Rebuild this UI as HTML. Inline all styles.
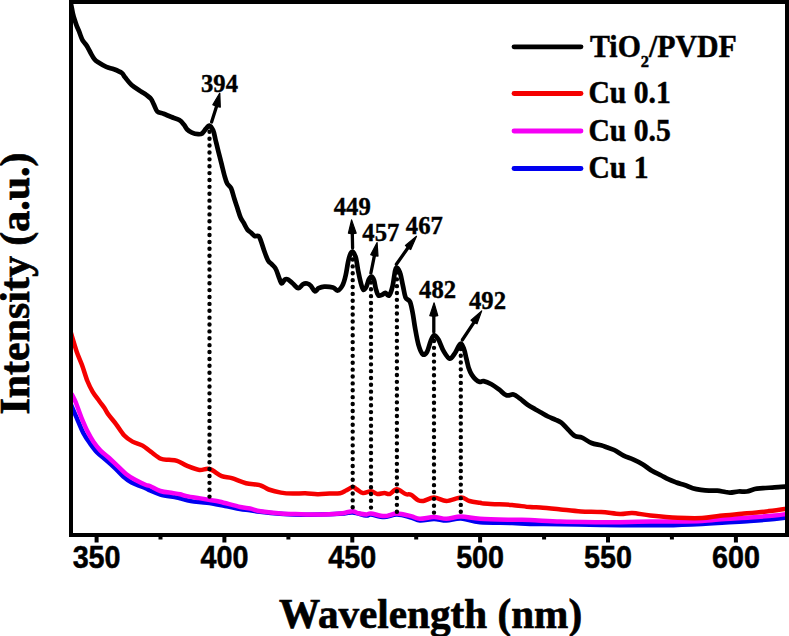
<!DOCTYPE html>
<html><head><meta charset="utf-8"><style>
html,body{margin:0;padding:0;background:#fff;}
svg{display:block;}
.tk{font-family:"Liberation Sans",sans-serif;font-weight:bold;font-size:31px;text-anchor:middle;stroke:#000;stroke-width:0.5px;}
.ti{font-family:"Liberation Serif",serif;font-weight:bold;font-size:43px;stroke:#000;stroke-width:0.7px;}
.lg{font-family:"Liberation Serif",serif;font-weight:bold;font-size:31px;stroke:#000;stroke-width:0.5px;}
.pk{font-family:"Liberation Serif",serif;font-weight:bold;font-size:26px;stroke:#000;stroke-width:0.4px;}
</style></head><body>
<svg width="789" height="636" viewBox="0 0 789 636">
<rect width="789" height="636" fill="#fff"/>
<defs><clipPath id="pc"><rect x="71" y="2" width="716" height="533"/></clipPath></defs>
<g fill="none" stroke-linejoin="round" stroke-linecap="round" clip-path="url(#pc)">
<path d="M71.2,405.2C72.1,407.2 74.4,412.6 76.4,417.2C78.4,421.8 81.0,428.6 83.3,433.0C85.6,437.4 87.9,440.5 90.2,443.7C92.5,446.9 94.5,449.7 97.1,452.4C99.7,455.1 102.8,457.3 105.7,459.8C108.6,462.3 111.5,464.8 114.4,467.5C117.3,470.2 120.1,473.7 123.0,476.2C125.9,478.7 127.8,480.6 131.6,482.6C135.4,484.6 142.9,487.1 146.0,488.4C149.1,489.7 147.6,489.5 150.0,490.5C152.4,491.5 156.2,493.4 160.3,494.5C164.4,495.6 171.2,496.5 174.5,497.1C177.8,497.7 177.3,497.5 180.0,498.2C182.7,498.9 186.3,500.3 190.8,501.1C195.3,501.9 201.3,502.0 207.0,502.8C212.7,503.6 219.5,505.0 225.0,506.0C230.5,507.0 235.8,508.3 240.0,509.0C244.2,509.7 246.7,509.7 250.0,510.2C253.3,510.7 255.0,511.2 260.0,511.8C265.0,512.4 273.2,513.3 280.0,513.8C286.8,514.3 291.0,514.8 301.0,514.8C311.0,514.8 331.4,514.2 340.0,513.8C348.6,513.4 348.5,512.2 352.8,512.5C357.1,512.8 363.0,515.2 366.0,515.5C369.0,515.8 368.0,514.2 371.0,514.5C374.0,514.8 379.7,517.0 384.0,517.0C388.3,517.0 392.5,514.4 397.0,514.5C401.5,514.6 407.2,516.5 411.0,517.5C414.8,518.5 416.2,520.2 420.0,520.5C423.8,520.8 429.6,519.0 434.0,519.0C438.4,519.0 442.0,520.7 446.5,520.6C451.0,520.5 455.4,518.2 461.0,518.5C466.6,518.8 471.5,521.5 480.0,522.3C488.5,523.0 503.7,522.7 512.0,523.0C520.3,523.3 521.9,523.8 530.0,524.0C538.1,524.2 548.8,524.0 560.6,524.2C572.5,524.4 591.2,524.8 601.1,525.0C611.0,525.2 609.2,525.2 620.0,525.2C630.8,525.2 651.9,525.5 665.6,525.3C679.3,525.1 692.0,524.5 702.0,524.0C712.0,523.5 717.4,523.0 725.4,522.5C733.4,522.0 741.8,521.6 750.0,521.0C758.2,520.4 768.4,519.6 774.5,519.0C780.6,518.4 784.7,517.8 786.7,517.5" stroke="#0000f0" stroke-width="4.5"/>
<path d="M72.0,394.5C72.4,395.2 73.5,397.4 74.2,399.0C74.9,400.6 75.2,400.9 76.4,404.0C77.6,407.1 79.6,413.2 81.5,417.8C83.4,422.4 85.6,427.6 87.6,431.6C89.6,435.6 91.4,438.8 93.6,442.0C95.8,445.2 97.9,447.9 100.5,450.6C103.1,453.3 106.3,455.4 109.2,458.0C112.1,460.6 114.9,463.5 117.8,466.2C120.7,468.9 123.5,472.0 126.4,474.3C129.3,476.6 131.8,478.0 135.1,479.8C138.4,481.6 143.5,484.0 146.0,485.0C148.5,486.0 147.6,485.0 150.0,486.0C152.4,487.0 156.6,489.8 160.3,491.0C164.1,492.2 169.2,492.5 172.5,493.0C175.8,493.5 177.6,493.7 180.0,494.2C182.4,494.7 183.5,495.5 186.7,496.1C189.8,496.8 195.0,497.5 198.9,498.1C202.8,498.8 206.5,499.4 210.0,500.0C213.5,500.6 214.9,500.5 220.0,501.7C225.1,502.9 235.3,505.9 240.3,507.0C245.3,508.1 246.6,507.8 250.0,508.5C253.4,509.2 255.5,510.4 260.6,511.2C265.8,512.0 274.1,513.0 280.9,513.5C287.6,514.0 294.4,514.0 301.1,514.2C307.9,514.4 314.9,514.6 321.4,514.5C327.9,514.4 335.9,513.8 340.0,513.5C344.1,513.2 343.9,512.9 346.0,512.5C348.1,512.1 350.8,511.1 352.8,511.2C354.8,511.3 355.7,512.7 358.0,513.2C360.3,513.7 364.4,514.4 366.6,514.4C368.8,514.4 368.0,513.2 371.0,513.5C374.0,513.8 380.1,516.1 384.4,516.1C388.7,516.1 392.4,513.5 396.8,513.5C401.2,513.5 407.2,515.2 411.0,516.1C414.8,517.0 416.0,518.6 419.8,518.8C423.6,518.9 429.6,517.0 434.0,517.0C438.4,517.0 442.0,518.9 446.5,518.8C451.0,518.7 455.4,516.5 461.0,516.5C466.6,516.5 471.5,518.2 480.0,518.8C488.5,519.3 503.7,519.6 512.0,519.8C520.3,520.0 521.9,519.7 530.0,520.0C538.1,520.3 548.8,521.2 560.6,521.6C572.5,522.0 591.2,522.1 601.1,522.2C611.0,522.3 611.8,522.3 620.0,522.2C628.2,522.1 640.8,521.7 650.4,521.6C660.0,521.5 669.2,521.7 677.8,521.6C686.4,521.5 694.1,521.4 702.0,521.0C709.9,520.6 717.4,519.6 725.4,519.0C733.4,518.4 741.8,518.1 750.0,517.5C758.2,516.9 768.4,516.1 774.5,515.5C780.6,514.9 784.7,514.2 786.7,514.0" stroke="#f500f5" stroke-width="4.5"/>
<path d="M70.8,332.5C71.8,335.7 74.8,346.3 76.7,351.7C78.6,357.1 80.2,360.1 82.0,365.0C83.8,369.9 85.6,376.5 87.4,381.0C89.2,385.5 90.7,388.4 92.7,391.8C94.7,395.2 97.4,398.4 99.4,401.2C101.4,404.0 103.3,406.4 104.8,408.6C106.2,410.8 106.2,411.6 108.1,414.2C110.0,416.8 113.5,420.8 116.2,424.3C118.9,427.9 121.6,432.6 124.3,435.5C127.0,438.4 129.4,439.9 132.5,441.6C135.6,443.3 139.6,443.9 142.6,445.6C145.6,447.3 147.6,449.5 150.7,451.7C153.8,453.9 157.8,457.4 160.9,458.8C164.0,460.2 166.3,459.5 169.0,459.8C171.7,460.1 174.1,459.9 177.1,460.9C180.1,461.9 183.5,464.4 187.2,465.9C190.9,467.4 195.7,469.5 199.4,470.0C203.1,470.5 205.8,468.0 209.5,469.0C213.2,470.0 218.0,474.6 221.7,476.1C225.4,477.6 227.8,476.9 231.8,478.1C235.9,479.3 241.3,482.0 246.0,483.2C250.7,484.4 256.2,484.1 260.0,485.2C263.8,486.2 265.2,488.3 268.7,489.5C272.2,490.7 276.8,491.9 280.9,492.6C284.9,493.3 288.9,493.5 293.0,493.6C297.1,493.7 301.1,493.1 305.2,493.2C309.3,493.3 313.3,494.1 317.4,494.2C321.4,494.3 325.7,493.8 329.5,493.6C333.3,493.4 337.2,493.7 340.0,493.2C342.8,492.7 343.9,491.5 346.0,490.5C348.1,489.5 351.0,487.2 352.8,487.0C354.6,486.8 355.3,488.5 357.0,489.5C358.7,490.5 360.8,492.8 363.1,493.1C365.4,493.4 368.6,491.2 371.0,491.3C373.4,491.4 375.1,493.7 377.3,494.0C379.5,494.3 382.3,493.1 384.4,493.1C386.5,493.1 387.6,494.6 389.7,494.0C391.8,493.4 394.1,489.2 396.8,489.2C399.5,489.2 403.2,493.1 405.6,494.0C408.0,494.9 408.9,493.8 411.0,494.8C413.1,495.8 416.0,499.2 418.1,500.2C420.2,501.2 420.8,501.4 423.4,501.0C426.0,500.6 430.1,497.5 434.0,497.5C437.9,497.5 442.0,501.0 446.5,501.0C451.0,501.0 457.2,497.5 461.0,497.5C464.8,497.5 466.3,500.1 469.5,501.0C472.7,501.9 477.6,502.4 480.0,502.8C482.4,503.2 481.0,503.4 483.6,503.6C486.2,503.8 491.1,504.0 495.8,504.2C500.5,504.4 506.3,504.5 512.0,505.0C517.7,505.5 525.3,506.7 530.0,507.1C534.7,507.5 535.2,507.0 540.3,507.4C545.4,507.8 553.8,508.7 560.6,509.4C567.4,510.1 574.1,511.0 580.9,511.4C587.6,511.8 594.6,511.6 601.1,512.0C607.6,512.4 614.8,513.8 620.0,514.0C625.2,514.2 627.1,512.8 632.2,513.0C637.3,513.2 642.8,514.7 650.4,515.5C658.0,516.3 669.2,517.4 677.8,517.8C686.4,518.2 695.1,518.4 702.1,518.1C709.1,517.8 713.4,516.5 720.0,515.8C726.6,515.1 734.1,514.5 741.8,513.8C749.5,513.1 758.8,512.3 766.3,511.5C773.8,510.7 783.3,509.2 786.7,508.8" stroke="#f50000" stroke-width="4.5"/>
<path d="M71.2,5.0C71.5,6.4 72.2,10.6 72.8,13.2C73.4,15.8 74.1,18.1 74.8,20.3C75.5,22.5 76.2,24.6 76.9,26.4C77.6,28.2 78.3,29.5 79.0,31.2C79.7,32.9 80.4,35.1 81.0,36.6C81.6,38.1 81.8,39.0 82.7,40.5C83.6,42.0 85.2,43.4 86.5,45.4C87.8,47.4 89.1,50.2 90.4,52.5C91.7,54.8 93.1,57.5 94.5,59.2C95.9,60.9 96.6,61.2 98.6,62.5C100.6,63.8 103.7,65.8 106.3,66.9C108.9,68.0 111.4,68.3 114.0,69.3C116.6,70.3 119.9,71.6 121.7,72.9C123.5,74.2 123.3,75.3 125.0,77.3C126.7,79.3 129.0,82.7 131.6,85.0C134.2,87.3 137.9,89.4 140.4,91.1C142.9,92.8 144.5,93.6 146.3,94.9C148.1,96.2 149.7,97.2 151.0,98.9C152.3,100.6 153.1,103.1 154.2,105.2C155.2,107.3 155.7,110.0 157.3,111.4C158.9,112.8 161.2,112.9 163.6,113.8C165.9,114.7 168.8,116.0 171.4,117.0C174.0,118.0 177.2,118.8 179.3,120.1C181.4,121.4 182.7,123.2 184.0,124.8C185.3,126.4 185.9,128.2 187.2,129.5C188.5,130.8 190.1,131.9 191.9,132.7C193.7,133.5 196.5,134.1 198.2,134.2C199.9,134.3 200.8,134.4 202.1,133.5C203.4,132.6 204.8,130.0 206.0,128.7C207.2,127.4 208.0,125.3 209.2,125.6C210.4,125.9 212.0,128.0 213.1,130.3C214.2,132.7 214.6,136.0 215.5,139.7C216.4,143.4 217.5,148.1 218.6,152.3C219.7,156.5 220.8,160.9 221.8,164.9C222.8,168.9 223.8,173.2 224.7,176.3C225.6,179.4 226.0,181.4 227.1,183.4C228.2,185.4 229.8,185.6 231.0,188.1C232.2,190.6 233.1,195.0 234.2,198.3C235.2,201.6 236.3,204.5 237.3,207.7C238.3,210.8 239.4,214.7 240.4,217.2C241.4,219.7 242.4,220.6 243.6,222.7C244.8,224.8 246.2,228.0 247.5,229.7C248.8,231.4 250.2,231.8 251.4,232.9C252.6,234.0 253.4,235.5 254.6,236.0C255.8,236.5 257.4,235.2 258.5,236.0C259.6,236.8 260.0,238.4 260.9,240.8C261.8,243.2 262.8,246.9 264.0,250.2C265.2,253.5 266.7,258.0 268.0,260.4C269.3,262.8 270.6,262.9 271.9,264.3C273.2,265.7 274.6,266.6 275.8,269.0C277.1,271.4 278.4,276.3 279.4,278.7C280.4,281.1 280.9,283.4 281.8,283.5C282.7,283.6 283.8,280.2 284.9,279.5C285.9,278.8 286.8,278.8 288.1,279.5C289.4,280.2 291.1,282.1 292.8,283.5C294.5,284.9 296.6,288.1 298.3,288.2C300.0,288.3 301.6,285.0 303.0,284.2C304.4,283.4 305.7,283.2 307.0,283.5C308.3,283.8 309.6,284.5 310.9,285.8C312.2,287.1 313.5,290.9 314.8,291.3C316.1,291.7 317.1,289.0 318.7,288.2C320.3,287.4 321.8,286.7 324.2,286.6C326.6,286.5 330.7,286.8 332.9,287.4C335.1,288.0 336.0,290.9 337.6,290.5C339.2,290.1 341.1,287.8 342.5,285.3C343.9,282.8 344.8,279.3 345.7,275.3C346.6,271.3 347.4,265.1 348.2,261.4C349.0,257.7 349.9,254.9 350.7,253.3C351.5,251.7 352.3,251.3 353.2,252.0C354.1,252.7 354.9,254.4 355.8,257.7C356.7,260.9 357.5,267.3 358.3,271.5C359.1,275.7 360.0,279.8 360.8,282.8C361.6,285.8 362.4,289.1 363.3,289.7C364.2,290.3 365.4,288.4 366.4,286.6C367.3,284.8 368.1,280.8 369.0,279.1C369.9,277.4 370.7,276.3 371.5,276.5C372.3,276.7 373.3,278.2 374.0,280.3C374.7,282.4 375.2,286.6 375.9,289.1C376.6,291.6 377.3,294.4 378.4,295.4C379.4,296.3 381.0,295.2 382.2,294.8C383.4,294.4 384.1,292.8 385.3,292.9C386.5,293.0 387.9,296.5 389.1,295.4C390.3,294.3 391.6,290.2 392.6,286.1C393.6,282.0 394.4,273.5 395.2,270.5C396.0,267.5 396.4,267.4 397.3,268.0C398.2,268.6 399.4,271.0 400.4,274.0C401.3,277.0 402.1,282.2 403.0,286.1C403.9,290.0 404.4,294.7 405.5,297.3C406.6,299.9 408.7,299.2 409.9,301.6C411.1,304.1 411.6,307.7 412.5,312.0C413.4,316.3 414.0,322.0 415.0,327.5C416.0,333.0 417.2,340.3 418.5,344.8C419.8,349.3 421.4,353.2 422.8,354.3C424.2,355.4 425.8,353.9 427.1,351.7C428.4,349.5 429.5,344.1 430.6,341.4C431.8,338.7 432.7,335.6 434.0,335.3C435.3,335.0 436.8,337.0 438.4,339.6C440.0,342.2 441.6,347.7 443.5,350.9C445.4,354.1 447.7,358.2 449.6,358.6C451.5,359.0 453.0,355.8 454.8,353.4C456.6,350.9 458.8,344.6 460.3,343.9C461.8,343.1 462.9,346.5 463.9,348.9C464.9,351.3 465.5,355.2 466.3,358.3C467.1,361.4 467.7,364.9 468.6,367.7C469.5,370.4 470.6,372.8 471.8,374.8C473.0,376.8 474.4,378.3 475.7,379.5C477.0,380.7 478.4,381.6 479.7,381.9C481.0,382.2 481.7,380.7 483.6,381.1C485.6,381.5 488.8,382.8 491.4,384.2C494.0,385.6 496.8,387.8 499.3,389.7C501.8,391.6 504.0,394.5 506.4,395.3C508.8,396.1 511.3,394.0 513.5,394.5C515.7,395.0 517.4,396.7 519.7,398.4C522.1,400.1 525.0,402.9 527.6,404.7C530.2,406.5 533.3,408.1 535.5,409.4C537.7,410.7 538.9,411.3 541.0,412.5C543.1,413.7 545.5,415.3 548.0,416.5C550.5,417.7 553.5,418.8 555.7,419.8C557.9,420.8 559.4,421.2 561.3,422.6C563.2,424.0 564.8,426.1 567.0,428.3C569.2,430.5 572.0,434.2 574.5,435.8C577.0,437.4 579.2,436.5 582.0,437.7C584.8,438.9 588.3,441.7 591.5,443.0C594.7,444.3 598.5,444.6 601.0,445.3C603.5,446.0 604.4,446.4 606.6,447.2C608.8,448.0 611.4,448.6 614.2,450.0C617.0,451.4 620.5,454.1 623.6,455.7C626.7,457.3 629.9,458.0 633.0,459.4C636.1,460.8 639.4,462.3 642.5,464.2C645.6,466.1 648.8,468.9 651.9,470.8C655.0,472.7 658.6,474.1 661.3,475.5C664.0,476.9 665.7,478.0 668.2,479.2C670.7,480.4 673.7,481.5 676.4,482.5C679.1,483.5 681.8,484.1 684.5,485.0C687.2,485.9 690.0,487.4 692.7,488.2C695.4,489.0 698.2,489.5 700.9,489.9C703.6,490.3 706.3,490.6 709.0,490.7C711.7,490.8 714.5,490.5 717.2,490.7C719.9,490.9 723.2,491.7 725.4,492.0C727.6,492.3 728.1,492.7 730.3,492.6C732.5,492.5 735.8,491.7 738.5,491.5C741.2,491.3 744.0,491.9 746.7,491.5C749.4,491.1 752.1,489.6 754.8,489.0C757.5,488.4 759.7,488.5 763.0,488.2C766.3,487.9 770.8,487.7 774.5,487.4C778.2,487.1 783.2,486.7 785.0,486.6" stroke="#000" stroke-width="4.7"/>
</g>
<line x1="209.5" y1="131.8" x2="209.5" y2="496.61" stroke="#000" stroke-width="4.4" stroke-linecap="round" stroke-dasharray="0 6.883"/><line x1="352.7" y1="259.5" x2="352.7" y2="507.31" stroke="#000" stroke-width="4.4" stroke-linecap="round" stroke-dasharray="0 6.883"/><line x1="371.0" y1="282.5" x2="371.0" y2="507.61" stroke="#000" stroke-width="4.4" stroke-linecap="round" stroke-dasharray="0 6.821"/><line x1="396.9" y1="272.5" x2="396.9" y2="511.71" stroke="#000" stroke-width="4.4" stroke-linecap="round" stroke-dasharray="0 6.834"/><line x1="434.0" y1="341" x2="434.0" y2="512.61" stroke="#000" stroke-width="4.4" stroke-linecap="round" stroke-dasharray="0 6.864"/><line x1="460.8" y1="349" x2="460.8" y2="511.71" stroke="#000" stroke-width="4.4" stroke-linecap="round" stroke-dasharray="0 6.779"/>
<line x1="211.6" y1="122" x2="216.6" y2="106.2" stroke="#000" stroke-width="3.3" stroke-linecap="round"/><polygon points="219.8,93.0 212.8,104.7 216.6,106.5 220.3,107.2" fill="#000" stroke="#000" stroke-width="1.2" stroke-linejoin="round"/><line x1="352.6" y1="248" x2="352.3" y2="233.5" stroke="#000" stroke-width="3.3" stroke-linecap="round"/><polygon points="351.6,219.9 348.4,233.2 352.3,233.8 356.2,233.2" fill="#000" stroke="#000" stroke-width="1.2" stroke-linejoin="round"/><line x1="370.9" y1="273" x2="374.4" y2="255.7" stroke="#000" stroke-width="3.3" stroke-linecap="round"/><polygon points="377.1,242.5 370.7,254.7 374.4,256.0 378.0,256.1" fill="#000" stroke="#000" stroke-width="1.2" stroke-linejoin="round"/><line x1="396.4" y1="264.3" x2="408.0" y2="247.8" stroke="#000" stroke-width="3.3" stroke-linecap="round"/><polygon points="416.5,236.3 405.4,245.4 408.0,248.1 410.7,249.5" fill="#000" stroke="#000" stroke-width="1.2" stroke-linejoin="round"/><line x1="433.8" y1="332" x2="433.8" y2="316.0" stroke="#000" stroke-width="3.3" stroke-linecap="round"/><polygon points="434.1,302.8 429.8,315.7 433.8,316.3 437.8,315.7" fill="#000" stroke="#000" stroke-width="1.2" stroke-linejoin="round"/><line x1="462.3" y1="340" x2="474.0" y2="322.3" stroke="#000" stroke-width="3.3" stroke-linecap="round"/><polygon points="481.7,310.9 471.0,320.2 474.0,322.6 477.0,323.8" fill="#000" stroke="#000" stroke-width="1.2" stroke-linejoin="round"/>
<text transform="translate(201.0,92.2) scale(0.95,1)" class="pk">394</text><text transform="translate(333.7,215.0) scale(0.95,1)" class="pk">449</text><text transform="translate(362.3,241.0) scale(0.95,1)" class="pk">457</text><text transform="translate(405.8,233.5) scale(0.95,1)" class="pk">467</text><text transform="translate(419.1,297.8) scale(0.95,1)" class="pk">482</text><text transform="translate(469.0,309.1) scale(0.95,1)" class="pk">492</text>
<rect x="71" y="2" width="716" height="533" fill="none" stroke="#000" stroke-width="4"/>
<line x1="96.6" y1="535" x2="96.6" y2="542.5" stroke="#000" stroke-width="4"/><line x1="160.5" y1="535" x2="160.5" y2="539.5" stroke="#000" stroke-width="4"/><line x1="224.4" y1="535" x2="224.4" y2="542.5" stroke="#000" stroke-width="4"/><line x1="288.4" y1="535" x2="288.4" y2="539.5" stroke="#000" stroke-width="4"/><line x1="352.3" y1="535" x2="352.3" y2="542.5" stroke="#000" stroke-width="4"/><line x1="416.2" y1="535" x2="416.2" y2="539.5" stroke="#000" stroke-width="4"/><line x1="480.1" y1="535" x2="480.1" y2="542.5" stroke="#000" stroke-width="4"/><line x1="544.1" y1="535" x2="544.1" y2="539.5" stroke="#000" stroke-width="4"/><line x1="608.0" y1="535" x2="608.0" y2="542.5" stroke="#000" stroke-width="4"/><line x1="671.9" y1="535" x2="671.9" y2="539.5" stroke="#000" stroke-width="4"/><line x1="735.9" y1="535" x2="735.9" y2="542.5" stroke="#000" stroke-width="4"/>
<text transform="translate(96.6,568) scale(0.927,1)" class="tk">350</text><text transform="translate(224.4,568) scale(0.927,1)" class="tk">400</text><text transform="translate(352.3,568) scale(0.927,1)" class="tk">450</text><text transform="translate(480.1,568) scale(0.927,1)" class="tk">500</text><text transform="translate(608.0,568) scale(0.927,1)" class="tk">550</text><text transform="translate(735.9,568) scale(0.927,1)" class="tk">600</text>
<text transform="translate(279,627.5) scale(0.958,1)" class="ti">Wavelength (nm)</text>
<text transform="translate(28.5,414.5) rotate(-90) scale(0.975,1)" class="ti">Intensity (a.u.)</text>
<g stroke-linecap="round" stroke-width="4.8">
<line x1="514" y1="46.8" x2="581" y2="46.8" stroke="#000"/>
<line x1="514" y1="93.5" x2="581" y2="93.5" stroke="#f50000"/>
<line x1="514" y1="131" x2="581" y2="131" stroke="#f500f5"/>
<line x1="514" y1="168.5" x2="581" y2="168.5" stroke="#0000f0"/>
</g>
<text transform="translate(590,56.8) scale(0.962,1)" class="lg">TiO<tspan font-size="17" dy="10.5">2</tspan><tspan dy="-10.5">/PVDF</tspan></text>
<text transform="translate(588.5,103.3) scale(0.955,1)" class="lg">Cu 0.1</text>
<text transform="translate(588.5,140.8) scale(0.955,1)" class="lg">Cu 0.5</text>
<text transform="translate(588.5,178.3) scale(0.955,1)" class="lg">Cu 1</text>
</svg>
</body></html>
